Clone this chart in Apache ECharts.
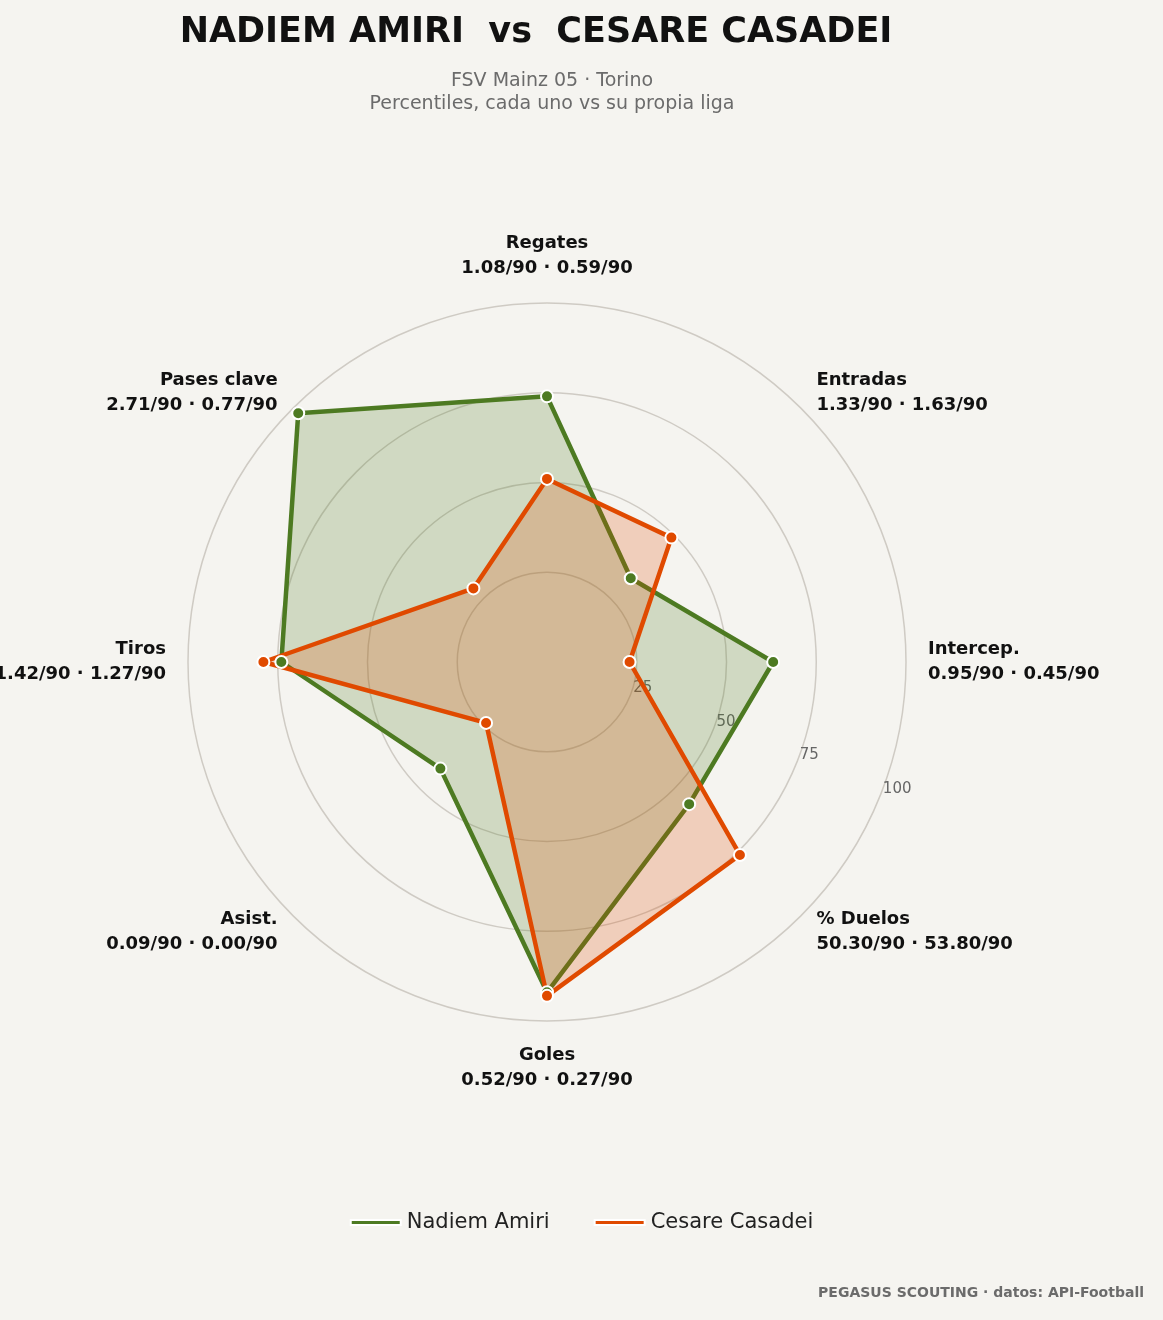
<!DOCTYPE html>
<html>
<head>
<meta charset="utf-8">
<script src="https://cdn.jsdelivr.net/npm/echarts@6/dist/echarts.min.js"></script>
<style>
  html, body { margin:0; padding:0; background:#f5f4f0; }
  #chart { width:1163px; height:1320px; }
</style>
</head>
<body>
<div id="chart"></div>
<script>
// ejes del radar (orden de ECharts: antihorario desde arriba)
var metrics = ['Regates', 'Pases clave', 'Tiros', 'Asist.', 'Goles', '% Duelos', 'Intercep.', 'Entradas'];
var perGame = ['1.08/90 · 0.59/90', '2.71/90 · 0.77/90', '1.42/90 · 1.27/90', '0.09/90 · 0.00/90',
               '0.52/90 · 0.27/90', '50.30/90 · 53.80/90', '0.95/90 · 0.45/90', '1.33/90 · 1.63/90'];
var amiri    = [74, 98, 74, 42, 92, 56, 63, 33];
var casadei  = [51, 29, 79, 24, 93, 76, 23, 49];
var ringTicks = [0, 25, 50, 75, 100];

var GREEN = '#4d7a22', ORANGE = '#e04a00';

var chart = echarts.init(document.getElementById('chart'));

function serie(name, values, color) {
    return {
        name: name,
        value: values,
        symbol: 'circle',
        symbolSize: 12,
        lineStyle: { color: color, width: 4.5 },
        itemStyle: { color: color, borderColor: '#fff', borderWidth: 2 },
        areaStyle: { color: color, opacity: 0.22 }
    };
}

var option = {
    backgroundColor: '#f5f4f0',
    textStyle: { fontFamily: 'DejaVu Sans' },
    title: [{
        text: 'NADIEM AMIRI  vs  CESARE CASADEI',
        left: 531, top: 10, textAlign: 'center',
        textStyle: { fontSize: 35, fontWeight: 'bold', color: '#111' }
    }, {
        text: 'FSV Mainz 05 · Torino\nPercentiles, cada uno vs su propia liga',
        left: 547, top: 65, textAlign: 'center',
        textStyle: { fontSize: 19, fontWeight: 'normal', color: '#6b6b6b', lineHeight: 23 }
    }, {
        text: 'PEGASUS SCOUTING · datos: API-Football',
        right: 14, bottom: 15,
        textStyle: { fontSize: 14, fontWeight: 'bold', color: '#6b6b6b' }
    }],
    legend: {
        bottom: 82, left: 'center',
        icon: 'path://M0,0 L60,0 L60,6 L0,6 Z', itemWidth: 52, itemHeight: 5, itemGap: 44,
        textStyle: { fontSize: 21, color: '#222' },
        data: [{ name: 'Nadiem Amiri', itemStyle: { color: GREEN } },
               { name: 'Cesare Casadei', itemStyle: { color: ORANGE } }]
    },
    radar: {
        center: [547, 662],
        radius: 359,
        shape: 'circle',
        startAngle: 90,
        splitNumber: 4,
        nameGap: 22,
        indicator: metrics.map(function (m, i) {
            return { name: m + '\n' + perGame[i], min: 0, max: 100 };
        }),
        axisName: { color: '#111', fontSize: 18, fontWeight: 'bold', lineHeight: 25 },
        axisLine: { show: false },
        splitArea: { show: false },
        splitLine: { lineStyle: { color: '#cfcbc4', width: 1.5 } }
    },
    // segundo sistema solo para las etiquetas de los anillos
    polar: { center: [547, 662], radius: 359 },
    angleAxis: { show: false, startAngle: -22, min: 0, max: 360 },
    radiusAxis: {
        min: ringTicks[0], max: ringTicks[ringTicks.length - 1], interval: 25,
        axisLine: { show: false }, axisTick: { show: false }, splitLine: { show: false },
        axisLabel: {
            color: '#666', fontSize: 15,
            formatter: function (v) { return v === 0 ? '' : String(v); }
        }
    },
    series: [{
        type: 'radar',
        z: 3,
        data: [serie('Nadiem Amiri', amiri, GREEN), serie('Cesare Casadei', casadei, ORANGE)]
    }]
};

chart.setOption(option);
</script>
</body>
</html>
